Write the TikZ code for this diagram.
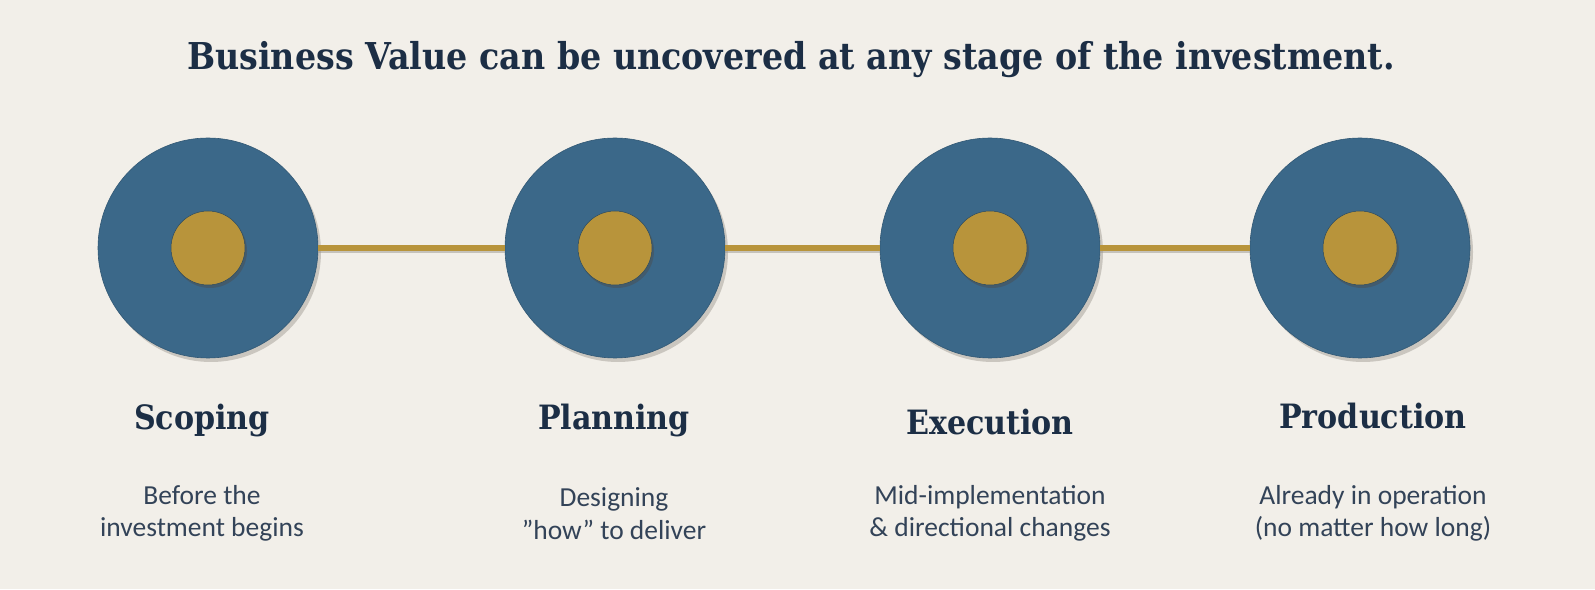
\documentclass[tikz,border=0pt]{standalone}
\usepackage{fontspec}
\setmainfont{Carlito}
\newfontfamily\headfont[FakeStretch=0.9]{DejaVu Serif}
\usetikzlibrary{shadows}
\definecolor{bgcream}{HTML}{F2EFE9}
\definecolor{stageblue}{HTML}{3B6889}
\definecolor{stagegold}{HTML}{B8943B}
\definecolor{inknavy}{HTML}{1C2E45}
\definecolor{shadowgray}{HTML}{9A968E}

\begin{document}
\begin{tikzpicture}[x=1pt,y=1pt,
  outer/.style={circle,fill=stageblue,draw=stageblue!85!black,line width=0.6pt,
    minimum size=220pt,inner sep=0pt,
    drop shadow={shadow xshift=3pt,shadow yshift=-4pt,fill=shadowgray,opacity=0.45}},
  inner/.style={circle,fill=stagegold,draw=stageblue!70!black,line width=0.5pt,
    minimum size=74pt,inner sep=0pt,
    drop shadow={shadow xshift=2pt,shadow yshift=-3pt,fill=black!70,opacity=0.45}},
  link/.style={stagegold,line width=6pt},
  linkshadow/.style={shadowgray,line width=5pt,opacity=0.5},
  head/.style={text=inknavy,font=\headfont\bfseries\fontsize{33.5}{38}\selectfont},
  desc/.style={text=inknavy!90,align=center,font=\fontsize{27.5}{32.5}\selectfont}]
\def\yC{341};
\def\yDesc{75.5};
\useasboundingbox[fill=bgcream] (0,0) rectangle (1595,589);
\node[text=inknavy,font=\headfont\bfseries\fontsize{37}{42}\selectfont] (title) at (791,529)
  {Business Value can be uncovered at any stage of the investment.};
% the four stages
\foreach \i/\x/\xt/\yh/\xd/\hd/\ds in {%
  1/208/202/169/202/Scoping/{Before the\\investment begins},
  2/615/614/169/614/Planning/{Designing\\”how” to deliver},
  3/990/990/167/990/Execution/{Mid-implementation\\\& directional changes},
  4/1360/1373/173/1373/Production/{Already in operation\\(no matter how long)}}
{
  \node[outer] (o\i) at (\x,\yC) {};
  \node[head] (h\i) at (\xt,\yh) {\hd};
  \node[desc] (d\i) at (\xd,\yDesc) {\ds};
}
% line between the circles
\foreach \a/\b in {1/2,2/3,3/4}
{
  \draw[linkshadow] ([yshift=-3pt]o\a.east) -- ([yshift=-3pt]o\b.west);
  \draw[link] (o\a) -- (o\b);
}
\foreach \i in {1,...,4}
  \node[inner] (c\i) at (o\i) {};
\end{tikzpicture}
\end{document}
